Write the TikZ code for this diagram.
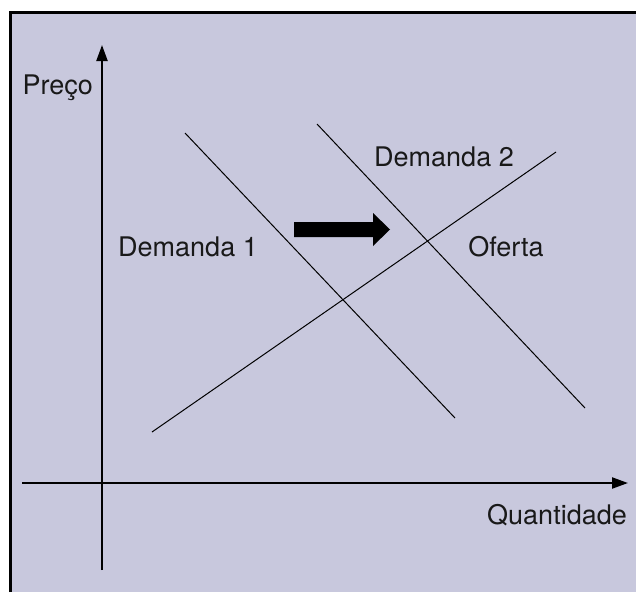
\documentclass[tikz,border=0pt]{standalone}
\usepackage{fontspec}
\setmainfont{TeX Gyre Heros}
\usetikzlibrary{arrows.meta}
\definecolor{bgpanel}{RGB}{200,200,221}
\tikzset{
  curve/.style={line width=1pt, black},
  axis/.style={line width=2.2pt, black, -{Triangle[length=16pt,width=11pt]}},
  lbl/.style={font=\fontsize{27}{32}\selectfont, inner sep=0pt, text=black!90},
}
\begin{document}
\begin{tikzpicture}[x=1pt,y=-1pt]
\useasboundingbox (0,0) rectangle (636,592);
\fill[bgpanel] (10,12) rectangle (636,592);
\draw[line width=3pt] (10,592) -- (10,12) -- (636,12);
% axes
\coordinate (vb) at (102,570);
\coordinate (vt) at (102,45);
\coordinate (hl) at (22,483);
\coordinate (hr) at (628,483);
\draw[axis] (vb) -- (vt);
\draw[axis] (hl) -- (hr);
% curves
\coordinate (d1a) at (185,133);
\coordinate (d1b) at (455,418);
\coordinate (d2a) at (317,124);
\coordinate (d2b) at (585,408);
\coordinate (oa) at (152,432);
\coordinate (ob) at (556,152);
\draw[curve] (d1a) -- (d1b);
\draw[curve] (d2a) -- (d2b);
\draw[curve] (oa) -- (ob);
% shift arrow
\fill[black] (294,222) -- (373,222) -- (373,213) -- (390,229.5) -- (373,246) -- (373,237) -- (294,237) -- cycle;
% labels
\node[lbl, anchor=base east] (preco) at (93,94) {Preço};
\node[lbl, anchor=base] (dem2) at (444,166) {Demanda 2};
\node[lbl, anchor=base] (dem1) at (188,256) {Demanda 1};
\node[lbl, anchor=base] (ofe) at (506,256) {Oferta};
\node[lbl, anchor=base east] (qtd) at (627,524) {Quantidade};
\end{tikzpicture}
\end{document}
